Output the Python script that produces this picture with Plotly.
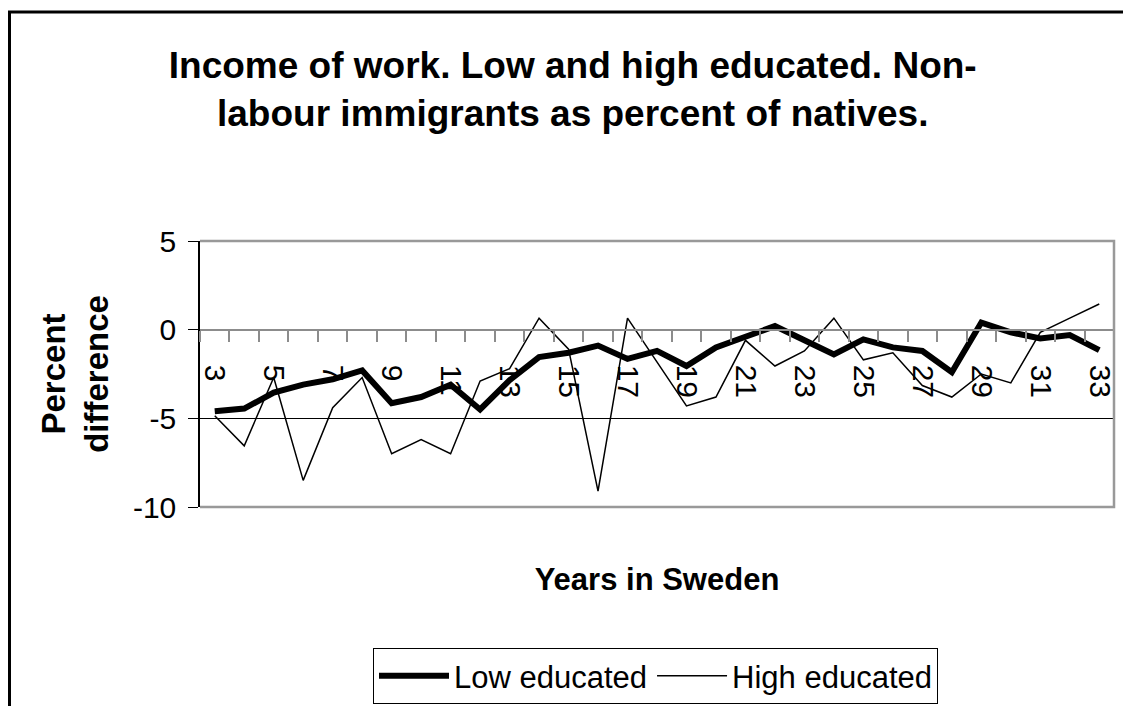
import plotly.graph_objects as go

# Years since arrival in Sweden and income gap (percent vs natives)
years = list(range(3, 34))
low_educated = [-4.6, -4.45, -3.55, -3.1, -2.8, -2.3, -4.15, -3.8, -3.1, -4.5,
                -2.85, -1.55, -1.3, -0.9, -1.65, -1.2, -2.05, -1.0, -0.4, 0.2,
                -0.6, -1.4, -0.55, -1.0, -1.2, -2.4, 0.4, -0.15, -0.5, -0.3, -1.15]
high_educated = [-4.85, -6.55, -2.7, -8.5, -4.4, -2.7, -7.0, -6.2, -7.0, -2.9,
                 -2.2, 0.65, -1.1, -9.1, 0.65, -1.8, -4.3, -3.8, -0.6, -2.05,
                 -1.2, 0.65, -1.7, -1.3, -3.15, -3.8, -2.5, -3.0, -0.15, 0.65, 1.45]
label_years = list(range(3, 34, 2))
y_ticks = [-10, -5, 0, 5]
y_labels = ["-10", "-5", "0", "5"]

FONT = "Liberation Sans, Arial, sans-serif"
W, H = 1123, 706
ML, MR, MT, MB = 200, 9, 241, 199
plot_w = W - ML - MR
plot_h = H - MT - MB
y_min, y_max = -10, 5
zero_frac = (0 - y_min) / (y_max - y_min)

fig = go.Figure()
fig.add_trace(go.Scatter(x=years, y=low_educated, mode="lines", name="Low educated",
                         line=dict(color="black", width=6)))
fig.add_trace(go.Scatter(x=years, y=high_educated, mode="lines", name="High educated",
                         line=dict(color="black", width=1.5)))

x_range = [years[0] - 0.5, years[-1] + 0.5]
boundaries = [v - 0.5 for v in years] + [years[-1] + 0.5]

def px_x(p):
    return (p - ML) / plot_w

def px_y(p):
    return (H - MB - p) / plot_h

fig.update_layout(
    width=W, height=H,
    margin=dict(l=ML, r=MR, t=MT, b=MB, autoexpand=False),
    paper_bgcolor="white", plot_bgcolor="white",
    font=dict(family=FONT, color="black", size=30),
    title=dict(
        text="<b>Income of work. Low and high educated. Non-<br>labour immigrants as percent of natives.</b>",
        font=dict(size=37, family=FONT, color="black"),
        x=0.51, xref="container", xanchor="center",
        y=1 - 78 / H, yref="container", yanchor="top",
    ),
    xaxis=dict(
        range=x_range, anchor="free", position=zero_frac, automargin=False,
        tickmode="array", tickvals=label_years, ticktext=[str(v) for v in label_years],
        tickangle=90, ticks="", ticklabelstandoff=28,
        tickfont=dict(size=30, family=FONT, color="black"),
        showline=True, linecolor="#8c8c8c", linewidth=2,
        showgrid=False, zeroline=False,
        minor=dict(tickmode="array", tickvals=boundaries, ticks="outside",
                   ticklen=11, tickwidth=1.5, tickcolor="#8c8c8c", showgrid=False),
        title=dict(text="<b>Years in Sweden</b>", standoff=170,
                   font=dict(size=31, family=FONT, color="black")),
    ),
    yaxis=dict(
        range=[y_min, y_max], tickmode="array", tickvals=y_ticks, ticktext=y_labels,
        automargin=False,
        ticks="outside", ticklen=10, tickwidth=1, tickcolor="black",
        ticklabelstandoff=6,
        tickfont=dict(size=30, family=FONT, color="black"),
        showline=True, linecolor="black", linewidth=1.5,
        showgrid=True, gridcolor="black", gridwidth=1, zeroline=False,
        title=dict(text="<b>Percent<br>difference</b>", standoff=14,
                   font=dict(size=33, family=FONT, color="black")),
    ),
    legend=dict(
        orientation="h", x=px_x(373), y=px_y(648), xanchor="left", yanchor="top",
        bordercolor="black", borderwidth=1, bgcolor="white",
        font=dict(size=31, family=FONT, color="black"),
        itemwidth=70, tracegroupgap=0,
    ),
    shapes=[
        # plot-area border on top, right and bottom
        dict(type="path", xref="paper", yref="paper", path="M0,1 L1,1 L1,0 L0,0",
             line=dict(color="#999999", width=2.5), layer="above"),
        # outer chart frame
        dict(type="rect", xref="paper", yref="paper",
             x0=px_x(9.5), x1=2.0, y0=-2.0, y1=px_y(12),
             line=dict(color="black", width=3), fillcolor="rgba(0,0,0,0)", layer="above"),
    ],
)

fig.write_html("out.html")
